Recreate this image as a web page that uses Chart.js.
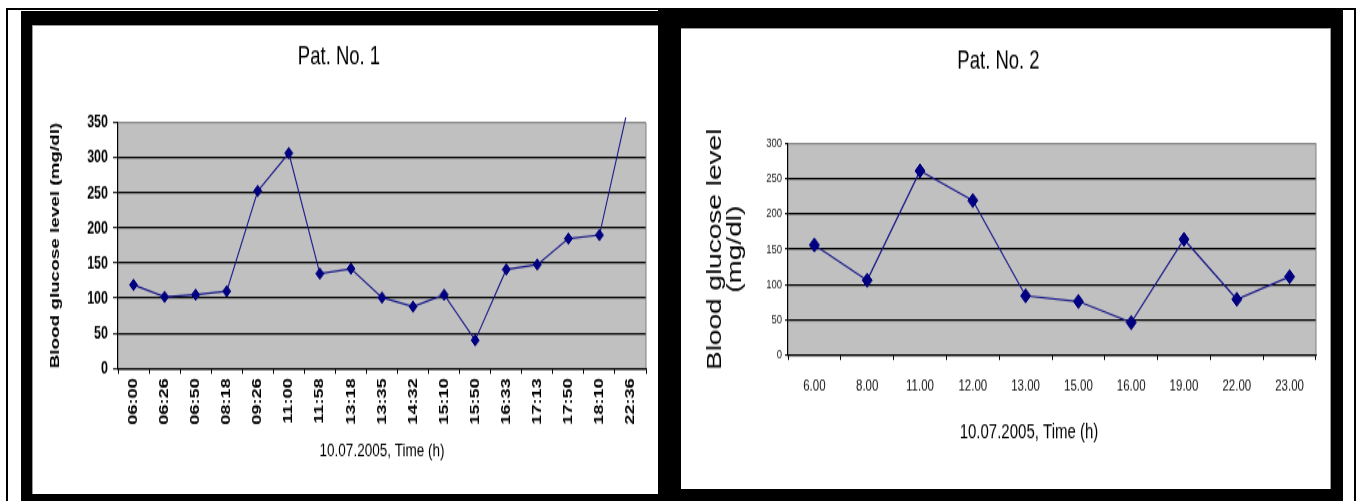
<!DOCTYPE html>
<html>
<head>
<meta charset="utf-8">
<script src="https://cdn.jsdelivr.net/npm/chart.js@4.4.1/dist/chart.umd.min.js"></script>
<style>
  html, body { margin:0; padding:0; background:#fff; }
  body { width:1361px; height:501px; overflow:hidden; position:relative; }
  .abs { position:absolute; }
  canvas { position:absolute; transform-origin:0 0; transform:scaleY(1.4); }
</style>
</head>
<body>
<div class="abs" style="left:6px;top:8px;width:1346px;height:600px;border:2px solid #000;"></div>
<div class="abs" style="left:21px;top:11px;width:660px;height:500px;background:#000;"></div>
<div class="abs" style="left:658px;top:8px;width:685px;height:500px;background:#000;"></div>
<div class="abs" style="left:32px;top:25px;width:626px;height:469px;background:#fff;box-shadow:inset 1px 1px 0 0 #999;"></div>
<div class="abs" style="left:681px;top:28px;width:650px;height:461px;background:#fff;box-shadow:inset -1px 1px 0 0 #999;"></div>
<canvas id="c1" width="626" height="335" style="left:32px;top:25px;"></canvas>
<canvas id="c2" width="650" height="329" style="left:681px;top:28px;"></canvas>
<script>
// ---- data ----
const p1Times = ["06:00","06:26","06:50","08:18","09:26","11:00","11:58","13:18","13:35","14:32","15:10","15:50","16:33","17:13","17:50","18:10","22:36"];
const p1Glucose = [119,102,105,110,253,307,135,142,101,88,105,40,141,148,185,190,388];
const p1YTicks = [0,50,100,150,200,250,300,350];

const p2Times = ["6.00","8.00","11.00","12.00","13.00","15.00","16.00","19.00","22.00","23.00"];
const p2Glucose = [156,106,261,219,84,76,46,164,79,111];
const p2YTicks = [0,50,100,150,200,250,300];

const FONT = '"Liberation Sans", Arial, sans-serif';
Chart.defaults.font.family = FONT;
Chart.defaults.color = '#000';

const plotFrame = {
  id: 'plotFrame',
  beforeDraw(chart) {
    const a = chart.chartArea, ctx = chart.ctx;
    ctx.save();
    ctx.fillStyle = '#c0c0c0';
    ctx.fillRect(a.left, a.top, a.right - a.left, a.bottom - a.top);
    ctx.restore();
  },
  beforeDatasetsDraw(chart) {
    const a = chart.chartArea, ctx = chart.ctx;
    ctx.save();
    ctx.strokeStyle = '#808080';
    ctx.lineWidth = 1;
    ctx.beginPath();
    ctx.moveTo(a.right, a.top);
    ctx.lineTo(a.right, a.bottom);
    ctx.stroke();
    ctx.restore();
  }
};

// axis caption drawn relative to the chart area (used where the source's caption is off-centre)
const xCaption = {
  id: 'xCaption',
  afterDraw(chart, args, opts) {
    if (!opts || !opts.text) return;
    const a = chart.chartArea, ctx = chart.ctx;
    ctx.save();
    ctx.font = `${opts.size}px ${FONT}`;
    ctx.fillStyle = opts.color || '#000';
    ctx.textAlign = 'center';
    ctx.textBaseline = 'middle';
    ctx.fillText(opts.text, (a.left + a.right) / 2 + opts.dx, a.bottom + opts.dy);
    ctx.restore();
  }
};

function makeChart(id, cfg) {
  const yMax = cfg.yTicks[cfg.yTicks.length - 1];
  const caption = !!cfg.xCaption;
  return new Chart(document.getElementById(id), {
    type: 'line',
    data: {
      labels: cfg.labels,
      datasets: [{
        data: cfg.values,
        borderColor: '#1a1a8a',
        borderWidth: cfg.lineWidth,
        pointStyle: 'rectRot',
        pointRadius: cfg.pointRadius,
        pointBackgroundColor: '#000080',
        pointBorderColor: '#000080',
        pointBorderWidth: 1,
        tension: 0,
        clip: {left: 6, top: 4, right: 6, bottom: 6}
      }]
    },
    options: {
      responsive: false,
      animation: false,
      devicePixelRatio: 1,
      events: [],
      layout: { padding: { left: 0, right: cfg.padRight, top: 0, bottom: 0 } },
      plugins: {
        legend: { display: false },
        tooltip: { enabled: false },
        title: {
          display: true,
          text: cfg.title,
          color: '#000',
          font: { size: 18.5, weight: 'normal' },
          padding: { top: cfg.titlePadTop, bottom: cfg.titlePadBottom }
        },
        xCaption: caption ? { text: cfg.xTitle, size: cfg.xTitleFont.size, dx: cfg.xCaption.dx, dy: cfg.xCaption.dy } : {}
      },
      scales: {
        x: {
          type: 'category',
          offset: true,
          grid: {
            offset: true,
            drawOnChartArea: false,
            drawTicks: true,
            tickLength: cfg.xTickLen,
            tickColor: '#000',
            tickWidth: 1
          },
          border: { display: true, color: '#000', width: 1.2 },
          ticks: {
            autoSkip: false,
            maxRotation: cfg.xRot,
            minRotation: cfg.xRot,
            padding: cfg.xTickPad,
            color: cfg.xTickColor,
            font: cfg.xTickFont
          },
          title: {
            display: !caption,
            text: cfg.xTitle,
            color: '#000',
            font: cfg.xTitleFont,
            padding: { top: 0, bottom: cfg.xTitlePad || 0 }
          },
          afterFit(scale) { scale.height = cfg.xAxisHeight; }
        },
        y: {
          min: cfg.yTicks[0],
          max: yMax,
          afterBuildTicks(scale) { scale.ticks = cfg.yTicks.map(v => ({value: v})); },
          grid: {
            color: (c) => (c.tick && c.tick.value === yMax) ? '#8a8a8a' : '#000',
            lineWidth: 1.3,
            tickColor: '#000',
            tickLength: cfg.yTickLen,
            tickWidth: 1
          },
          border: { display: true, color: '#000', width: 1.2 },
          ticks: {
            padding: cfg.yTickPad,
            color: cfg.yTickColor,
            font: cfg.yTickFont
          },
          title: {
            display: true,
            text: cfg.yTitle,
            color: '#000',
            font: cfg.yTitleFont,
            padding: { top: cfg.yTitlePad, bottom: 0 }
          },
          afterFit(scale) { scale.width = cfg.yAxisWidth; }
        }
      }
    },
    plugins: [plotFrame, xCaption]
  });
}

makeChart('c1', {
  labels: p1Times, values: p1Glucose, yTicks: p1YTicks,
  title: 'Pat. No. 1', titlePadTop: 11.8, titlePadBottom: 36.0,
  padRight: 12,
  lineWidth: 1.1, pointRadius: 4,
  xRot: 90, xTickLen: 4, xTickPad: 3, xTickColor: '#000',
  xTickFont: { size: 13, weight: 'bold' },
  xTitle: '10.07.2005, Time (h)', xTitleFont: { size: 13.5, weight: 'normal' }, xTitlePad: 22.6,
  xAxisHeight: 89.8,
  yTickLen: 5, yTickPad: 5, yTickColor: '#000',
  yTickFont: { size: 12.5, weight: 'bold' },
  yTitle: 'Blood glucose level (mg/dl)', yTitleFont: { size: 13.5, weight: 'bold' }, yTitlePad: 15,
  yAxisWidth: 86
});

makeChart('c2', {
  labels: p2Times, values: p2Glucose, yTicks: p2YTicks,
  title: 'Pat. No. 2', titlePadTop: 13.2, titlePadBottom: 47.0,
  padRight: 15,
  lineWidth: 1.2, pointRadius: 5,
  xRot: 0, xTickLen: 3.6, xTickPad: 11.9, xTickColor: '#111',
  xTickFont: { size: 11.5, weight: 'normal' },
  xTitle: '10.07.2005, Time (h)', xTitleFont: { size: 15, weight: 'normal' },
  xCaption: { dx: -23, dy: 55 },
  xAxisHeight: 95.4,
  yTickLen: 3, yTickPad: 3, yTickColor: '#222',
  yTickFont: { size: 9.5, weight: 'normal' },
  yTitle: ['Blood glucose level', '(mg/dl)'], yTitleFont: { size: 20, weight: 'normal', lineHeight: 1.0 }, yTitlePad: 24,
  yAxisWidth: 107
});
</script>
</body>
</html>
